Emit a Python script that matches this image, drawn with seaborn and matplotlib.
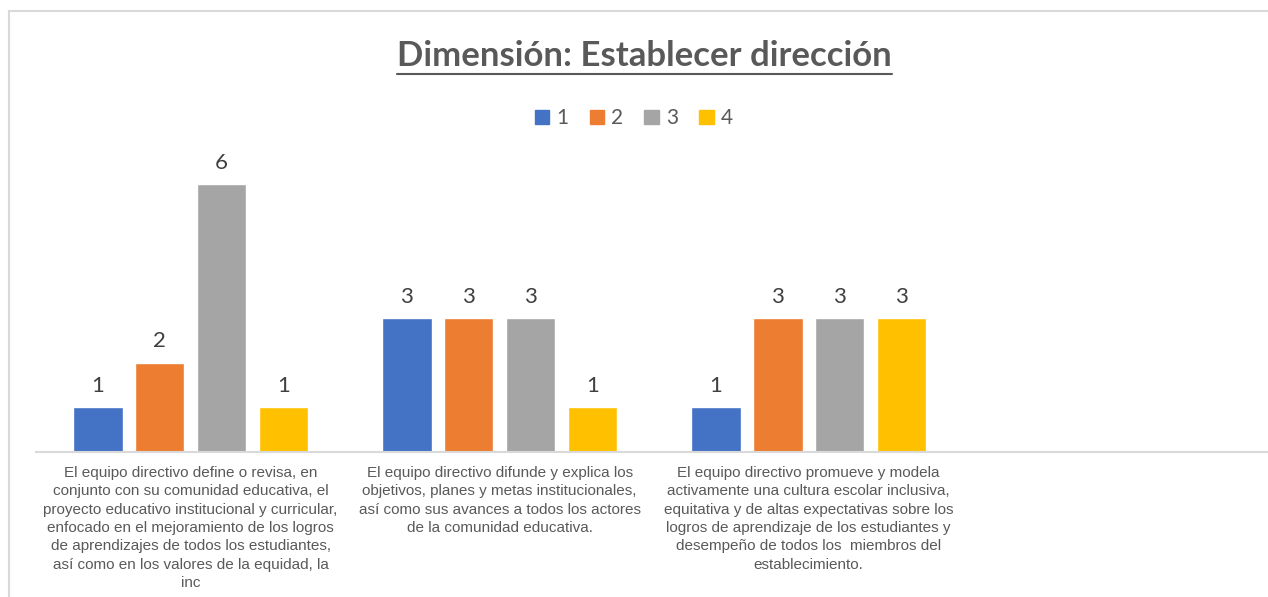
import matplotlib
matplotlib.use('Agg')
import matplotlib.pyplot as plt
from matplotlib.patches import Rectangle
from matplotlib.lines import Line2D
import seaborn as sb
import pandas as pd

titulo = 'Dimensión: Establecer dirección'
niveles = ['1', '2', '3', '4']
colores = ['#4472C4', '#ED7D31', '#A5A5A5', '#FFC000']
categorias = [
    'El equipo directivo define o revisa, en\nconjunto con su comunidad educativa, el\n'
    'proyecto educativo institucional y curricular,\nenfocado en el mejoramiento de los logros\n'
    'de aprendizajes de todos los estudiantes,\nasí como en los valores de la equidad, la\ninc',
    'El equipo directivo difunde y explica los\nobjetivos, planes y metas institucionales,\n'
    'así como sus avances a todos los actores\nde la comunidad educativa.',
    'El equipo directivo promueve y modela\nactivamente una cultura escolar inclusiva,\n'
    'equitativa y de altas expectativas sobre los\nlogros de aprendizaje de los estudiantes y\n'
    'desempeño de todos los  miembros del\nestablecimiento.',
]
valores_1 = [1, 3, 1]
valores_2 = [2, 3, 3]
valores_3 = [6, 3, 3]
valores_4 = [1, 1, 3]

filas = []
for nivel, vals in zip(niveles, [valores_1, valores_2, valores_3, valores_4]):
    for cat, v in zip(categorias, vals):
        filas.append({'categoria': cat, 'nivel': nivel, 'valor': v})
df = pd.DataFrame(filas)

sb.set_style('white')
plt.rcParams['font.family'] = ['Lato', 'DejaVu Sans']

fig = plt.figure(figsize=(12.68, 5.97), dpi=100)
ax = fig.add_axes([0.0284, 0.2429, 0.975, 0.524])

sb.barplot(data=df, x='categoria', y='valor', hue='nivel', order=categorias,
           hue_order=niveles, palette=colores, width=0.8, gap=0.2,
           saturation=1, ax=ax, legend=False)

for cont in ax.containers:
    ax.bar_label(cont, fmt='%d', padding=8, fontsize=16, color='#404040')

ax.set_xlim(-0.5, 3.5)
ax.set_ylim(0, 7)
ax.set_yticks([])
ax.set_xlabel('')
ax.set_ylabel('')
for s in ['top', 'right', 'left']:
    ax.spines[s].set_visible(False)
ax.spines['bottom'].set_color('#D9D9D9')
ax.spines['bottom'].set_linewidth(1.5)
ax.tick_params(axis='x', length=0, pad=10)
for t in ax.get_xticklabels():
    t.set_fontfamily(['Liberation Sans'])
    t.set_fontsize(11)
    t.set_color('#595959')
    t.set_linespacing(1.4)

# leyenda
manijas = [Rectangle((0, 0), 1, 1, color=c) for c in colores]
fig.legend(manijas, niveles, loc='center', bbox_to_anchor=(0.500, 0.802), ncol=4,
           frameon=False, fontsize=15, handlelength=0.7, handleheight=0.7,
           handletextpad=0.35, columnspacing=1.0, labelcolor='#595959')

# titulo subrayado
txt = fig.text(0.508, 0.906, titulo, ha='center', va='center', fontsize=25,
               fontweight='bold', color='#595959')
fig.canvas.draw()
bb = txt.get_window_extent().transformed(fig.transFigure.inverted())
fig.add_artist(Line2D([bb.x0, bb.x1], [bb.y0 - 0.003, bb.y0 - 0.003],
                      color='#595959', lw=1.5, transform=fig.transFigure))

# borde del area del grafico
fig.add_artist(Rectangle((9 / 1268, -0.1), 1.2, 1 - 11 / 597 + 0.1,
                         transform=fig.transFigure, fill=False,
                         edgecolor='#D9D9D9', lw=1.5))

fig.savefig('out.png', dpi=100)
